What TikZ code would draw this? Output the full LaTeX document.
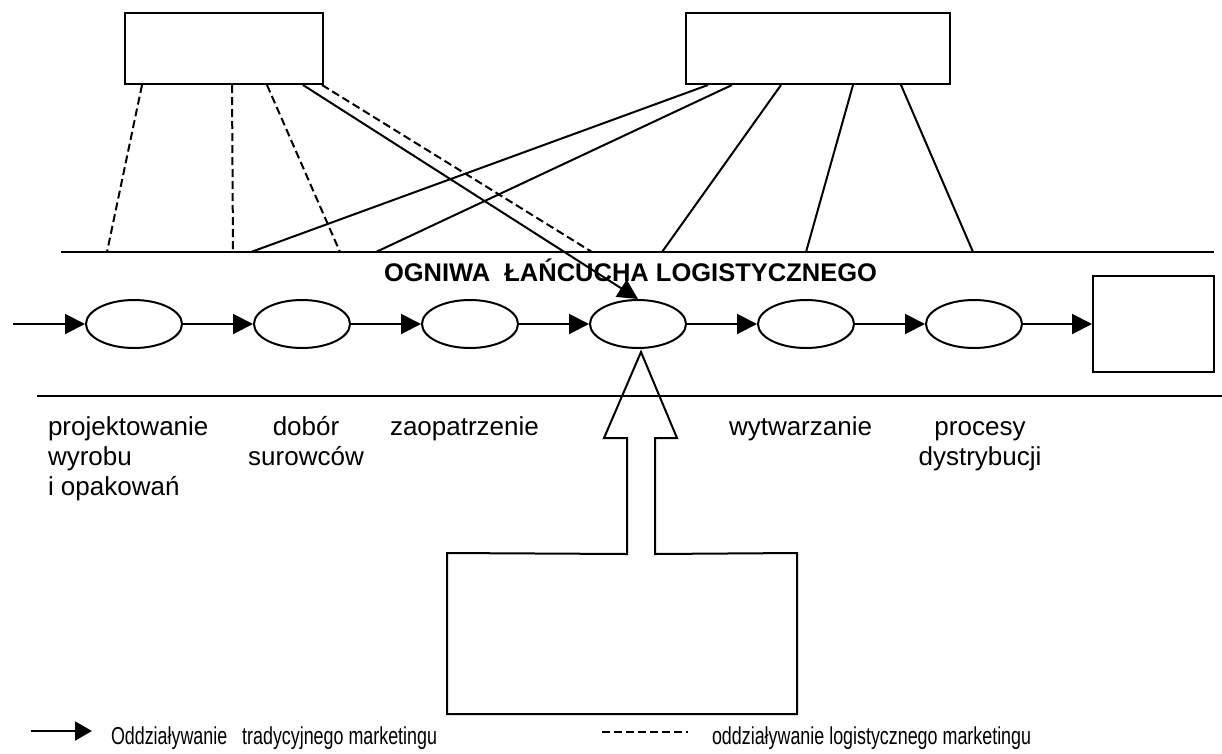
\documentclass[tikz,border=0pt]{standalone}
\usepackage{fontspec}
\setmainfont{Liberation Sans}
\newfontfamily\legendfont[FakeStretch=0.73]{Liberation Sans}
\usetikzlibrary{arrows.meta,shapes.geometric}
\begin{document}
\begin{tikzpicture}[x=1pt,y=-1pt,line width=2pt,
				link/.style={ellipse,draw,minimum width=96pt,minimum height=48pt,inner sep=0pt},
				blank/.style={rectangle,draw,inner sep=0pt},
				trad/.style={-{Triangle[length=20pt,width=20pt]}},
				logi/.style={dash pattern=on 8pt off 4pt},
				desc/.style={font=\fontsize{26}{30}\selectfont,inner sep=0pt,align=left},
				legend/.style={font=\legendfont\fontsize{24.5}{28}\selectfont,inner sep=0pt,anchor=base west}]
\useasboundingbox (0,0) rectangle (1222,753);
% marketing boxes
\node[blank,minimum width=198pt,minimum height=71pt] (market) at (224,48.5) {};
\node[blank,minimum width=264pt,minimum height=71pt] (logist) at (818,48.5) {};
\draw (61,252) -- (1214,252);
\draw (37,396) -- (1222,396);
\node[font=\bfseries\fontsize{25.5}{30}\selectfont,anchor=base west,inner sep=0pt] (title) at (383,281) {OGNIWA\ \ ŁAŃCUCHA LOGISTYCZNEGO};
% chain
\coordinate (in) at (13,324);
\foreach \i/\x in {1/134,2/302,3/470,4/638,5/806,6/974}
	\node[link] (e\i) at (\x,324) {};
\node[blank,minimum width=121pt,minimum height=96pt] (client) at (1153.5,324) {};
\draw[trad] (in) -- (e1);
\foreach \i/\j in {1/2,2/3,3/4,4/5,5/6}
	\draw[trad] (e\i) -- (e\j);
\draw[trad] (e6) -- (client);
% influences
\foreach \n/\x in {a/107,b/233,c/340,d/592,f/251,g/376,h/662,k/806,m/973}
	\coordinate (t\n) at (\x,252);
\foreach \dx/\t in {18/a,108/b,143/c,198/d}
	\draw[logi] ([xshift=\dx pt]market.south west) -- (t\t);
\draw[trad] ([xshift=179pt]market.south west) -- (e4.north);
\foreach \dx/\t in {23/f,47/g,96/h,168/k,216/m}
	\draw ([xshift=\dx pt]logist.south west) -- (t\t);
% links (base = last line)
\node[desc,anchor=base west] (design) at (47,495) {projektowanie\\wyrobu\\i opakowań};
\node[desc,anchor=base,align=center] (material) at (306,465) {dobór\\surowców};
\node[desc,anchor=base west] (supply) at (389,435) {zaopatrzenie};
\node[desc,anchor=base west] (production) at (728,435) {wytwarzanie};
\node[desc,anchor=base,align=center] (distribution) at (980,465) {procesy\\dystrybucji};
% supplier with hollow arrow
\node[minimum width=348pt,minimum height=159pt,inner sep=0pt] (supplier) at (622,633.5) {};
\draw (supplier.north west) -- (627,554) -- (627,438) -- (604,438) -- (641,352) -- (677,438)
	-- (655,438) -- (655,554) -- (supplier.north east) -- (supplier.south east) -- (supplier.south west) -- cycle;
% legend
\coordinate (ls) at (31,731);
\coordinate (le) at (92,731);
\draw[-{Triangle[length=17pt,width=19pt]}] (ls) -- (le);
\node[legend] (tradtext) at (110,744) {Oddziaływanie\ \ \ tradycyjnego marketingu};
\coordinate (ds) at (602,732);
\coordinate (de) at (688,732);
\draw[logi] (ds) -- (de);
\node[legend] (logitext) at (711,744) {oddziaływanie logistycznego marketingu};
\end{tikzpicture}
\end{document}
